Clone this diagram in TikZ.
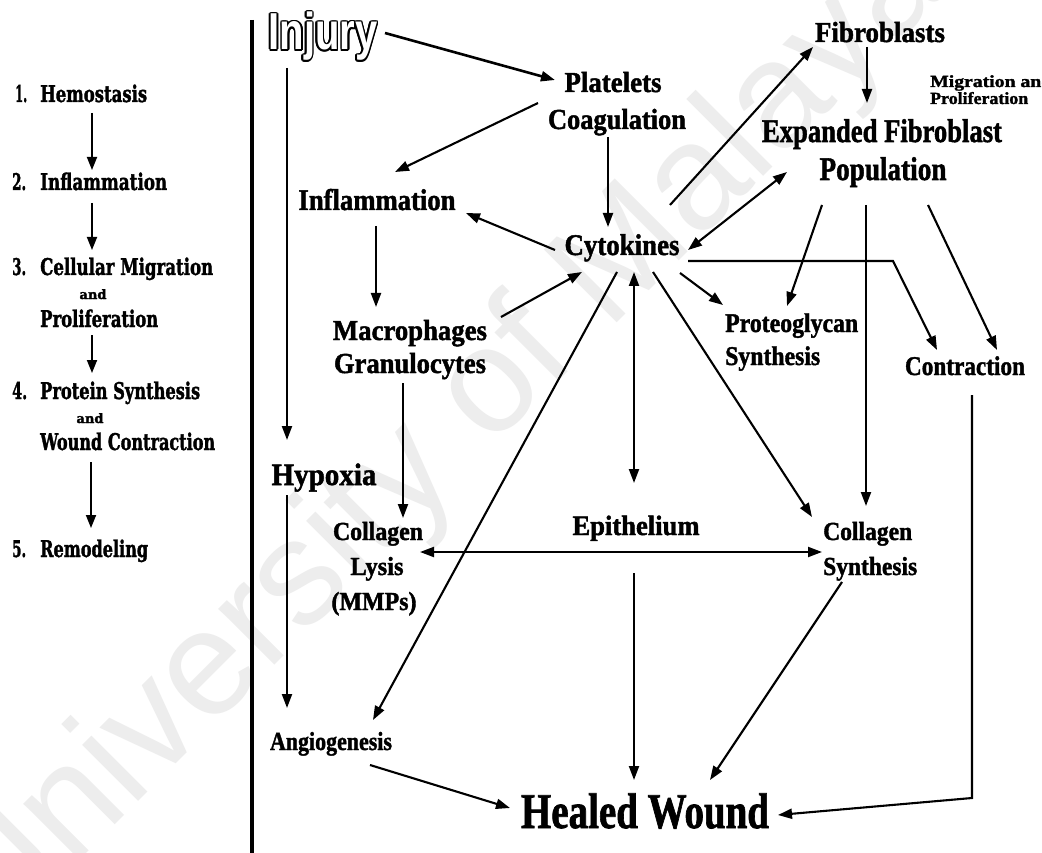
\documentclass[tikz,border=0pt]{standalone}
\usepackage{fontspec}
\setmainfont{Liberation Serif}[BoldFeatures={FakeBold=1.6}]
\newfontfamily\slab{DejaVu Serif}[BoldFeatures={FakeBold=1.8}]
\newfontfamily\sansf{Liberation Sans}
\usetikzlibrary{arrows.meta,calc}
\newlength\natw
\newcommand\fw[2]{\settowidth{\natw}{#2}\pgfmathsetmacro\fwf{#1/\natw}\scalebox{\fwf}[1]{#2}}
\tikzset{
  lbl/.style={inner sep=0pt, anchor=base, font=\bfseries\fontsize{#1}{#1}\selectfont},
  lblL/.style={inner sep=0pt, anchor=base west, font=\bfseries\fontsize{#1}{#1}\selectfont},
  lc/.style={inner sep=0pt, anchor=base west, font=\slab\bfseries\fontsize{23}{23}\selectfont},
  lcand/.style={inner sep=0pt, anchor=base, font=\slab\bfseries\fontsize{13}{13}\selectfont},
  injs/.style={inner sep=0pt, anchor=base, font=\sansf\bfseries\fontsize{52}{52}\selectfont},
  arr/.style={line width=2.1pt, -{Triangle[length=14pt,width=10pt]}},
  darr/.style={line width=2.1pt, {Triangle[length=14pt,width=10pt]}-{Triangle[length=14pt,width=10pt]}},
  larr/.style={line width=1.8pt, -{Triangle[length=13pt,width=10pt]}},
}
\begin{document}
\begin{tikzpicture}[x=1pt,y=-1pt]
\useasboundingbox (0,0) rectangle (1042,853);
\fill[white] (0,0) rectangle (1042,853);
\clip (0,0) rectangle (1042,853);
% watermark
\node[rotate=45, font=\sansf\fontsize{150}{150}\selectfont, text=black!7] (wm) at (446,439) {University of Malaya};
% left column
\node[lc] (n1) at (15,102) {\fw{12}{1.}};
\node[lc] (s1) at (40,102) {\fw{107}{Hemostasis}};
\node[lc] (n2) at (12,190) {\fw{14}{2.}};
\node[lc] (s2) at (40,190) {\fw{127}{Inflammation}};
\node[lc] (n3) at (12,275) {\fw{14}{3.}};
\node[lc] (s3a) at (40,275) {\fw{173}{Cellular Migration}};
\node[lcand] (and3) at (93,299) {\fw{27}{and}};
\node[lc] (s3b) at (40,327) {\fw{118}{Proliferation}};
\node[lc] (n4) at (12,399) {\fw{15}{4.}};
\node[lc] (s4a) at (40,399) {\fw{160}{Protein Synthesis}};
\node[lcand] (and4) at (90,423) {\fw{27}{and}};
\node[lc] (s4b) at (40,450) {\fw{175}{Wound Contraction}};
\node[lc] (n5) at (12,557) {\fw{14}{5.}};
\node[lc] (s5) at (40,557) {\fw{108}{Remodeling}};
\draw[larr] ([shift={(52,11)}]s1.base west) -- ([shift={(52,-20)}]s2.base west);
\draw[larr] ([shift={(52,13)}]s2.base west) -- ([shift={(52,-25)}]s3a.base west);
\draw[larr] ([shift={(52,8)}]s3b.base west) -- ([shift={(52,-26)}]s4a.base west);
\draw[larr] ([shift={(51,12)}]s4b.base west) -- ([shift={(51,-29)}]s5.base west);
% separator
\draw[line width=3.8pt] (252,20) -- (252,853);
% Injury (outlined)
\foreach \a in {0,30,...,330}
  \node[injs, text=black] at ($(323,50)+(\a:1.6)$) {\fw{109}{Injury}};
\node[injs, text=white] (injury) at (323,50) {\fw{109}{Injury}};
% main labels
\node[lbl=29] (plate) at (613,92) {\fw{97}{Platelets}};
\node[lbl=29] (coag) at (617,129) {\fw{138}{Coagulation}};
\node[lbl=29] (fibro) at (880,42) {\fw{130}{Fibroblasts}};
\node[lblL=17] (mig1) at (930,87) {\fw{122}{Migration and}};
\node[lblL=17] (mig2) at (930,104) {\fw{98}{Proliferation}};
\node[lbl=33] (exp1) at (882,142) {\fw{240}{Expanded Fibroblast}};
\node[lbl=33] (exp2) at (883,180) {\fw{127}{Population}};
\node[lbl=30] (infl) at (377,210) {\fw{157}{Inflammation}};
\node[lbl=30] (cyto) at (622,255) {\fw{115}{Cytokines}};
\node[lbl=29] (macro1) at (410,340) {\fw{154}{Macrophages}};
\node[lbl=29] (macro2) at (410,373) {\fw{152}{Granulocytes}};
\node[lblL=27] (prot1) at (725,332) {\fw{133}{Proteoglycan}};
\node[lblL=27] (prot2) at (725,365) {\fw{95}{Synthesis}};
\node[lbl=27] (contr) at (965,375) {\fw{120}{Contraction}};
\node[lbl=31] (hypox) at (324,485) {\fw{105}{Hypoxia}};
\node[lbl=26] (lys1) at (378,540) {\fw{90}{Collagen}};
\node[lbl=26] (lys2) at (377,575) {\fw{53}{Lysis}};
\node[lbl=26] (lys3) at (374,610) {\fw{85}{(MMPs)}};
\node[lbl=28] (epi) at (636,535) {\fw{127}{Epithelium}};
\node[lblL=26] (syn1) at (823,540) {\fw{89}{Collagen}};
\node[lblL=26] (syn2) at (823,575) {\fw{94}{Synthesis}};
\node[lbl=26] (angio) at (331,750) {\fw{122}{Angiogenesis}};
\node[lbl=50] (healed) at (645,828) {\fw{248}{Healed Wound}};
% connectors
\draw[arr, line width=2.6pt] ([shift={(62,-17)}]injury.base) -- ([shift={(-58,-12)}]plate.base);
\draw[arr] ([shift={(-75,11)}]plate.base) -- ([shift={(18,-38)}]infl.base);
\draw[arr] ([shift={(-36,18)}]injury.base) -- ([shift={(-37,-45)}]hypox.base);
\draw[arr] ([shift={(-9,8)}]coag.base) -- ([shift={(-14,-28)}]cyto.base);
\draw[arr] ([shift={(48,-50)}]cyto.base) -- ([shift={(-67,5)}]fibro.base);
\draw[arr] ([shift={(-13,5)}]fibro.base) -- ([shift={(-15,-39)}]exp1.base);
\draw[darr] ([shift={(66,-5)}]cyto.base) -- ([shift={(-96,-8)}]exp2.base);
\draw[arr] ([shift={(-67,-5)}]cyto.base) -- ([shift={(89,3)}]infl.base);
\draw[arr] ([shift={(-1,16)}]infl.base) -- ([shift={(-34,-33)}]macro1.base);
\draw[arr] ([shift={(91,-23)}]macro1.base) -- ([shift={(-40,17)}]cyto.base);
\draw[arr] ([shift={(-7,10)}]macro2.base) -- ([shift={(25,-22)}]lys1.base);
\draw[arr] ([shift={(-5,17)}]cyto.base) -- ([shift={(42,-30)}]angio.base);
\draw[darr] ([shift={(12,17)}]cyto.base) -- ([shift={(-2,-52)}]epi.base);
\draw[arr] ([shift={(31,17)}]cyto.base) -- ([shift={(-11,-23)}]syn1.base west);
\draw[arr] ([shift={(58,18)}]cyto.base) -- ([shift={(-2,-27)}]prot1.base west);
\draw[arr] ([shift={(66,6)}]cyto.base) -- ++(205,0) -- ([shift={(-28,-25)}]contr.base);
\draw[arr] ([shift={(-61,25)}]exp2.base) -- ([shift={(62,-26)}]prot1.base west);
\draw[arr] ([shift={(-17,25)}]exp2.base) -- ([shift={(43,-34)}]syn1.base west);
\draw[arr] ([shift={(45,25)}]exp2.base) -- ([shift={(32,-25)}]contr.base);
\draw[arr] ([shift={(7,20)}]contr.base) -- ++(0,403) -- ([shift={(133,-13)}]healed.base);
\draw[arr] ([shift={(19,7)}]syn2.base west) -- ([shift={(65,-48)}]healed.base);
\draw[arr] ([shift={(-2,38)}]epi.base) -- ([shift={(-11,-48)}]healed.base);
\draw[arr] ([shift={(-37,10)}]hypox.base) -- ([shift={(-44,-42)}]angio.base);
\draw[arr] ([shift={(39,15)}]angio.base) -- ([shift={(-135,-20)}]healed.base);
\draw[darr] ([shift={(42,12)}]lys1.base) -- ([shift={(-1,12)}]syn1.base west);
\end{tikzpicture}
\end{document}
